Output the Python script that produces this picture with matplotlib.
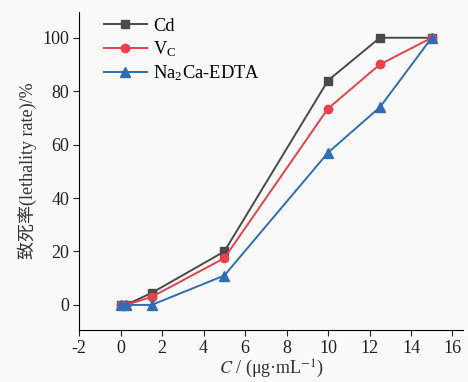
import matplotlib
matplotlib.use("Agg")
import matplotlib.pyplot as plt

x = [0, 0.25, 1.5, 5, 10, 12.5, 15]
cd = [0, 0, 4.5, 20, 84, 100, 100]
vc = [0, 0, 3, 17.5, 73.5, 90, 100]
edta = [0, 0, 0, 11, 57, 74, 100]
labels = ["Cd", "V$_\\mathregular{C}$", "Na$_\\mathregular{2}$Ca-EDTA"]
xticks = [-2, 0, 2, 4, 6, 8, 10, 12, 14, 16]
yticks = [0, 20, 40, 60, 80, 100]

plt.rcParams['font.family'] = ['Liberation Serif', 'Noto Sans CJK SC']
plt.rcParams['mathtext.fontset'] = 'stix'
plt.rcParams['axes.unicode_minus'] = False

fig = plt.figure(figsize=(4.68, 3.82), dpi=100, facecolor='#fafafa')
ax = fig.add_axes([0.169, 0.136, 0.82, 0.833])
ax.set_facecolor('#fafafa')

ax.plot(x, cd, color='#4a4a4a', marker='s', ms=5.5, lw=1.4, label=labels[0])
ax.plot(x, vc, color='#e8414a', marker='o', ms=6, lw=1.4, label=labels[1])
ax.plot(x, edta, color='#2f6db5', marker='^', ms=6.5, lw=1.4, label=labels[2])

ax.set_xlim(-2, 16.5)
ax.set_ylim(-9.4, 109.7)
ax.set_xticks(xticks)
ax.set_yticks(yticks)
ax.spines['top'].set_visible(False)
ax.spines['right'].set_visible(False)
ax.tick_params(direction='out', length=4, labelsize=13, colors='#222222', pad=3)
ax.set_xlabel("$\\it{C}$ / (μg·mL$^{-1}$)", fontsize=13, color='#333333', labelpad=1)
ax.set_ylabel("致死率(lethality rate)/%", fontsize=13, color='#333333',
              family=['Liberation Serif', 'Noto Sans CJK SC'], labelpad=4)
leg = ax.legend(loc='upper left', frameon=False, fontsize=13.3, handlelength=2.3,
                borderaxespad=0.0, labelspacing=0.25, handletextpad=0.35,
                bbox_to_anchor=(0.046, 1.004))
fig.savefig("out.png", dpi=100, facecolor=fig.get_facecolor())
